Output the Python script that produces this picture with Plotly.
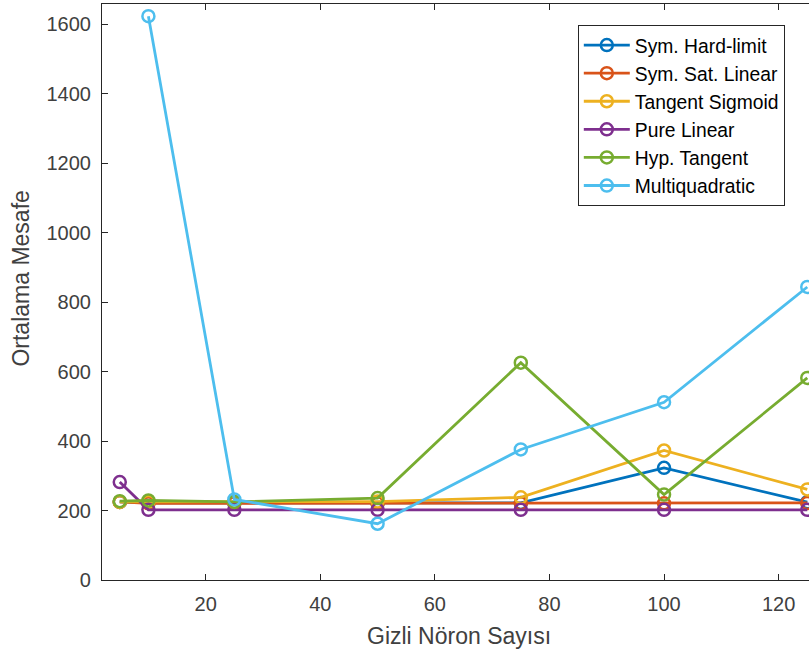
import plotly.graph_objects as go

x_vals = [5, 10, 25, 50, 75, 100, 125]
x_mq = [10, 25, 50, 75, 100, 125]

hard_limit = [225, 222, 222, 222, 222, 323, 224]
sat_linear = [225, 221, 221, 221, 221, 221, 222]
tan_sigmoid = [225, 225, 225, 226, 238, 373, 261]
pure_linear = [282, 202, 202, 202, 202, 202, 202]
hyp_tangent = [227, 229, 225, 236, 626, 246, 582]
multiquad = [1624, 232, 162, 376, 512, 844]

series = [
    ("Sym. Hard-limit", x_vals, hard_limit, "#0072BD"),
    ("Sym. Sat. Linear", x_vals, sat_linear, "#D95319"),
    ("Tangent Sigmoid", x_vals, tan_sigmoid, "#EDB120"),
    ("Pure Linear", x_vals, pure_linear, "#7E2F8E"),
    ("Hyp. Tangent", x_vals, hyp_tangent, "#77AC30"),
    ("Multiquadratic", x_mq, multiquad, "#4DBEEE"),
]

x_ticks = [20, 40, 60, 80, 100, 120]
y_ticks = [0, 200, 400, 600, 800, 1000, 1200, 1400, 1600]

fig = go.Figure()
for name, xs, ys, col in series:
    fig.add_trace(go.Scatter(
        x=xs, y=ys, name=name, mode="lines+markers",
        line=dict(color=col, width=2.8),
        marker=dict(symbol="circle-open", size=12, color=col, line=dict(width=2.5, color=col)),
    ))

axcol = "#262626"
font = "Liberation Sans, Arial, sans-serif"
fig.update_layout(
    width=809, height=657,
    margin=dict(l=102, r=0, t=4, b=77),
    paper_bgcolor="white", plot_bgcolor="white",
    font=dict(family=font, color=axcol, size=20),
    showlegend=True,
    legend=dict(
        x=0.673, y=0.9635, xanchor="left", yanchor="top",
        bgcolor="white", bordercolor=axcol, borderwidth=1,
        font=dict(family=font, size=19.3, color="#000000"),
        tracegroupgap=0, itemwidth=46,
    ),
    xaxis=dict(
        range=[1.9, 125.3], tickvals=x_ticks, ticks="inside", ticklen=6,
        tickcolor=axcol, showline=True, linecolor=axcol, linewidth=1.2,
        mirror="ticks", showgrid=False, zeroline=False,
        tickfont=dict(size=20, color="#404040"), ticklabelstandoff=6,
    ),
    yaxis=dict(
        range=[0, 1659], tickvals=y_ticks, ticks="inside", ticklen=6,
        tickcolor=axcol, showline=True, linecolor=axcol, linewidth=1.2,
        mirror=False, showgrid=False, zeroline=False,
        tickfont=dict(size=20, color="#404040"), ticklabelstandoff=6,
    ),
    annotations=[
        dict(text="Gizli Nöron Sayısı", xref="paper", yref="paper",
             x=0.505, y=-0.098, xanchor="center", yanchor="middle",
             showarrow=False, font=dict(size=23, color="#404040", family=font)),
        dict(text="Ortalama Mesafe", xref="paper", yref="paper",
             x=-0.114, y=0.524, xanchor="center", yanchor="middle",
             textangle=-90, showarrow=False,
             font=dict(size=23, color="#404040", family=font)),
    ],
)

fig.write_html("out.html")
